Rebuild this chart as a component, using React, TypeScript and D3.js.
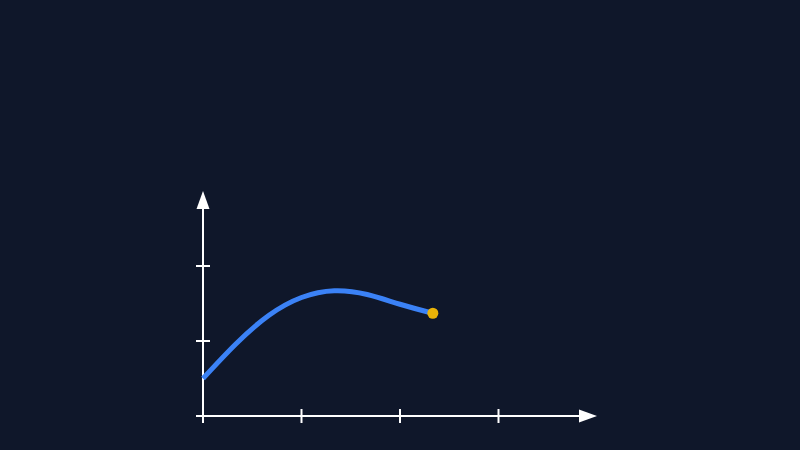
import React from 'react';
import * as d3 from 'd3';

// curve samples (x in axis units, y in axis units)
const curveX = [0, 1 / 3, 2 / 3, 1, 4 / 3, 5 / 3, 2, 7 / 3];
const curveY = [0.5, 0.96, 1.34, 1.58, 1.67, 1.62, 1.49, 1.37];
const xTicks = [0, 1, 2, 3];
const yTicks = [0, 1, 2];

const width = 800;
const height = 450;
const bg = '#0f172a';
const axisColor = '#ffffff';

export default function App() {
  const x = d3.scaleLinear().domain([0, 4]).range([203, 597]);
  const y = d3.scaleLinear().domain([0, 3]).range([416, 191]);

  const pts: [number, number][] = curveX.map((v, i) => [v, curveY[i]]);
  const line = d3
    .line<[number, number]>()
    .x(d => x(d[0]))
    .y(d => y(d[1]))
    .curve(d3.curveNatural);

  const x0 = x(0);
  const y0 = y(0);
  const xEnd = x(4);
  const yEnd = y(3);
  const arrowLen = 18;
  const last = pts[pts.length - 1];

  return (
    <div style={{ position: 'fixed', left: 0, top: 0, width, height, background: bg }}>
      <svg width={width} height={height} style={{ display: 'block' }}>
        <rect width={width} height={height} fill={bg} />

        {/* axes */}
        <line x1={x0} y1={y0} x2={xEnd - arrowLen} y2={y0} stroke={axisColor} strokeWidth={2} />
        <line x1={x0} y1={y0} x2={x0} y2={yEnd + arrowLen} stroke={axisColor} strokeWidth={2} />
        <path
          d={`M${xEnd},${y0} L${xEnd - arrowLen},${y0 - 6.5} L${xEnd - arrowLen},${y0 + 6.5} Z`}
          fill={axisColor}
        />
        <path
          d={`M${x0},${yEnd} L${x0 - 6.5},${yEnd + arrowLen} L${x0 + 6.5},${yEnd + arrowLen} Z`}
          fill={axisColor}
        />

        {/* ticks */}
        {xTicks.map(t => (
          <line key={'x' + t} x1={x(t)} x2={x(t)} y1={y0 - 7} y2={y0 + 7} stroke={axisColor} strokeWidth={2} />
        ))}
        {yTicks.map(t => (
          <line key={'y' + t} x1={x0 - 7} x2={x0 + 7} y1={y(t)} y2={y(t)} stroke={axisColor} strokeWidth={2} />
        ))}

        {/* curve */}
        <path d={line(pts) || ''} fill="none" stroke="#3b82f6" strokeWidth={5} />
        <circle cx={x(last[0])} cy={y(last[1])} r={5.5} fill="#eab308" />
      </svg>
    </div>
  );
}
